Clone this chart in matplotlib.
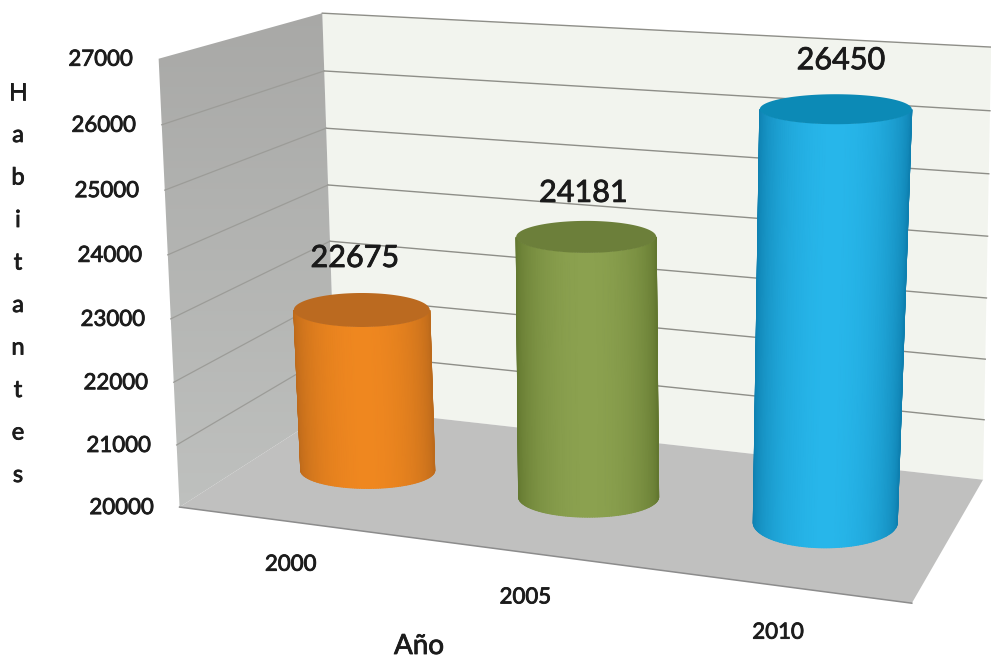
import numpy as np
import matplotlib
matplotlib.use("Agg")
import matplotlib.pyplot as plt
import matplotlib.patheffects as pe
from matplotlib.colors import LinearSegmentedColormap
from matplotlib.patches import Polygon

# chart data
years = ["2000", "2005", "2010"]
population = [22675, 24181, 26450]
y_ticks = [20000, 21000, 22000, 23000, 24000, 25000, 26000, 27000]
y_min = 20000
y_max = 27000
y_title = "Habitantes"
x_title = "Año"

# bar colours: centre of the lit side, edge of the side, top cap
bar_light = ["#ef871f", "#8ba14f", "#27b6ea"]
bar_dark = ["#bd6a1b", "#62772f", "#0e80b0"]
bar_cap = ["#bb6a20", "#6c7f3a", "#0c8ab6"]

# ellipse sizes in pixels for each cylinder
top_half_width = [68, 70, 76]
base_half_width = [67, 70, 72]
top_squash = [17, 16, 15]
base_squash = [18, 20, 25]

# small nudges in pixels, the picture is not a perfect projection
top_shift = [(-1, 3), (1, 3), (8, 6)]
base_shift = [(0, 4), (0, 4), (0, 1)]
label_offset = [(-7, -52), (-3, -44), (5, -49)]
year_offset = [43, 45, 47]

plt.rcParams["font.family"] = ["Lato", "DejaVu Sans"]

# thin outline makes the regular weight look semibold
heavy = [pe.withStroke(linewidth=0.6, foreground="#1c1c1c")]

# box corners as seen in the picture: (across, value, depth) -> pixel
box_points = [(0, 0, 0), (1, 0, 0), (0, 1, 0), (1, 1, 0), (0, 0, 1), (1, 0, 1), (0, 1, 1)]
box_pixels = [(335, 407), (983, 480), (323, 13), (991, 47), (180, 507), (912, 603), (158, 59)]


# fits the camera matrix for the 3d box
def fit_camera():
    rows = []
    for (x, y, z), (px, py) in zip(box_points, box_pixels):
        px, py = px / 1000, py / 1000
        rows.append([x, y, z, 1, 0, 0, 0, 0, -px * x, -px * y, -px * z, -px])
        rows.append([0, 0, 0, 0, x, y, z, 1, -py * x, -py * y, -py * z, -py])
    return np.linalg.svd(np.array(rows, dtype=float))[2][-1].reshape(3, 4)


camera = fit_camera()


# converts box coordinates to picture pixels
def project(u, value, depth):
    v = (value - y_min) / (y_max - y_min)
    p = camera @ np.array([u, v, depth, 1.0])
    return 1000 * p[0] / p[2], 1000 * p[1] / p[2]


fig = plt.figure(figsize=(9.91, 6.58), dpi=100)
ax = fig.add_axes([0, 0, 1, 1])

# box faces
left_wall = [project(0, y_min, 0), project(0, y_max, 0), project(0, y_max, 1), project(0, y_min, 1)]
back_wall = [project(0, y_min, 0), project(1, y_min, 0), project(1, y_max, 0), project(0, y_max, 0)]
floor = [project(0, y_min, 0), project(1, y_min, 0), project(1, y_min, 1), project(0, y_min, 1)]

ax.add_patch(Polygon(back_wall, closed=True, facecolor="#f2f4ee", edgecolor="none", zorder=1))
ax.add_patch(Polygon(floor, closed=True, facecolor="#c0c0bf", edgecolor="none", zorder=2))

# left wall gets lighter towards the floor
wall_patch = Polygon(left_wall, closed=True, facecolor="none", edgecolor="none", zorder=1)
ax.add_patch(wall_patch)
wall_cmap = LinearSegmentedColormap.from_list("wall", ["#a8a8a6", "#bfc1bf"])
wall_img = ax.imshow(np.linspace(0, 1, 256).reshape(-1, 1), extent=(150, 340, 515, 5), cmap=wall_cmap,
                     aspect="auto", zorder=1, origin="upper")
wall_img.set_clip_path(wall_patch)

# gridlines on the two walls
for tick in y_ticks:
    back = project(0, tick, 0)
    right = project(1, tick, 0)
    front = project(0, tick, 1)
    if tick != y_min:
        ax.plot([back[0], right[0]], [back[1], right[1]], color="#8e8e88", lw=1.0, zorder=3)
        if tick != y_max:
            ax.plot([back[0], front[0]], [back[1], front[1]], color="#9c9c98", lw=0.9, zorder=3)
    ax.text(front[0] - 58, front[1] + 1, str(tick), ha="center", va="center", fontsize=16,
            color="#1c1c1c", zorder=6, path_effects=heavy)

# darker line along the front of the floor
edge_a = project(0, y_min, 1)
edge_b = project(1, y_min, 1)
ax.plot([edge_a[0], edge_b[0]], [edge_a[1], edge_b[1]], color="#8c8c8c", lw=1.1, zorder=3)

# cylinders
for i, value in enumerate(population):
    u = (i + 0.5) / len(population)
    base_x, base_y = project(u, y_min, 0.5)
    base_x, base_y = base_x + base_shift[i][0], base_y + base_shift[i][1]
    top_x, top_y = project(u, value, 0.5)
    top_x, top_y = top_x + top_shift[i][0], top_y + top_shift[i][1]

    # side of the cylinder, lit in the middle
    t = np.linspace(0, np.pi, 90)
    side_x = np.vstack([top_x - top_half_width[i] * np.cos(t), base_x - base_half_width[i] * np.cos(t)])
    side_y = np.vstack([top_y + top_squash[i] * np.sin(t), base_y + base_squash[i] * np.sin(t)])
    lit = np.sin(t) ** 1.3
    side_cmap = LinearSegmentedColormap.from_list("side", [bar_dark[i], bar_light[i]])
    ax.pcolormesh(side_x, side_y, np.vstack([lit, lit]), shading="gouraud", cmap=side_cmap,
                  vmin=0, vmax=1, zorder=4)

    # top cap
    t = np.linspace(0, 2 * np.pi, 120)
    cap = np.column_stack([top_x + top_half_width[i] * np.cos(t), top_y + top_squash[i] * np.sin(t)])
    ax.add_patch(Polygon(cap, closed=True, facecolor=bar_cap[i], edgecolor="none", zorder=5))

    # value label
    ax.text(top_x + label_offset[i][0], top_y + label_offset[i][1], str(value), ha="center", va="center",
            fontsize=22, color="#1a1a1a", zorder=6, path_effects=heavy)

    # category label
    cat_x, cat_y = project(u, y_min, 1)
    ax.text(cat_x, cat_y + year_offset[i], years[i], ha="center", va="center", fontsize=16,
            color="#1c1c1c", zorder=6, path_effects=heavy)

# axis titles
for i, letter in enumerate(y_title):
    ax.text(18, 93 + i * 42.5, letter, ha="center", va="center", fontsize=17, color="#1c1c1c", path_effects=heavy)
ax.text(419, 646, x_title, ha="center", va="center", fontsize=20, color="#1c1c1c", path_effects=heavy)

ax.set_xlim(0, 991)
ax.set_ylim(658, 0)
ax.axis("off")

fig.savefig("out.png", dpi=100)
